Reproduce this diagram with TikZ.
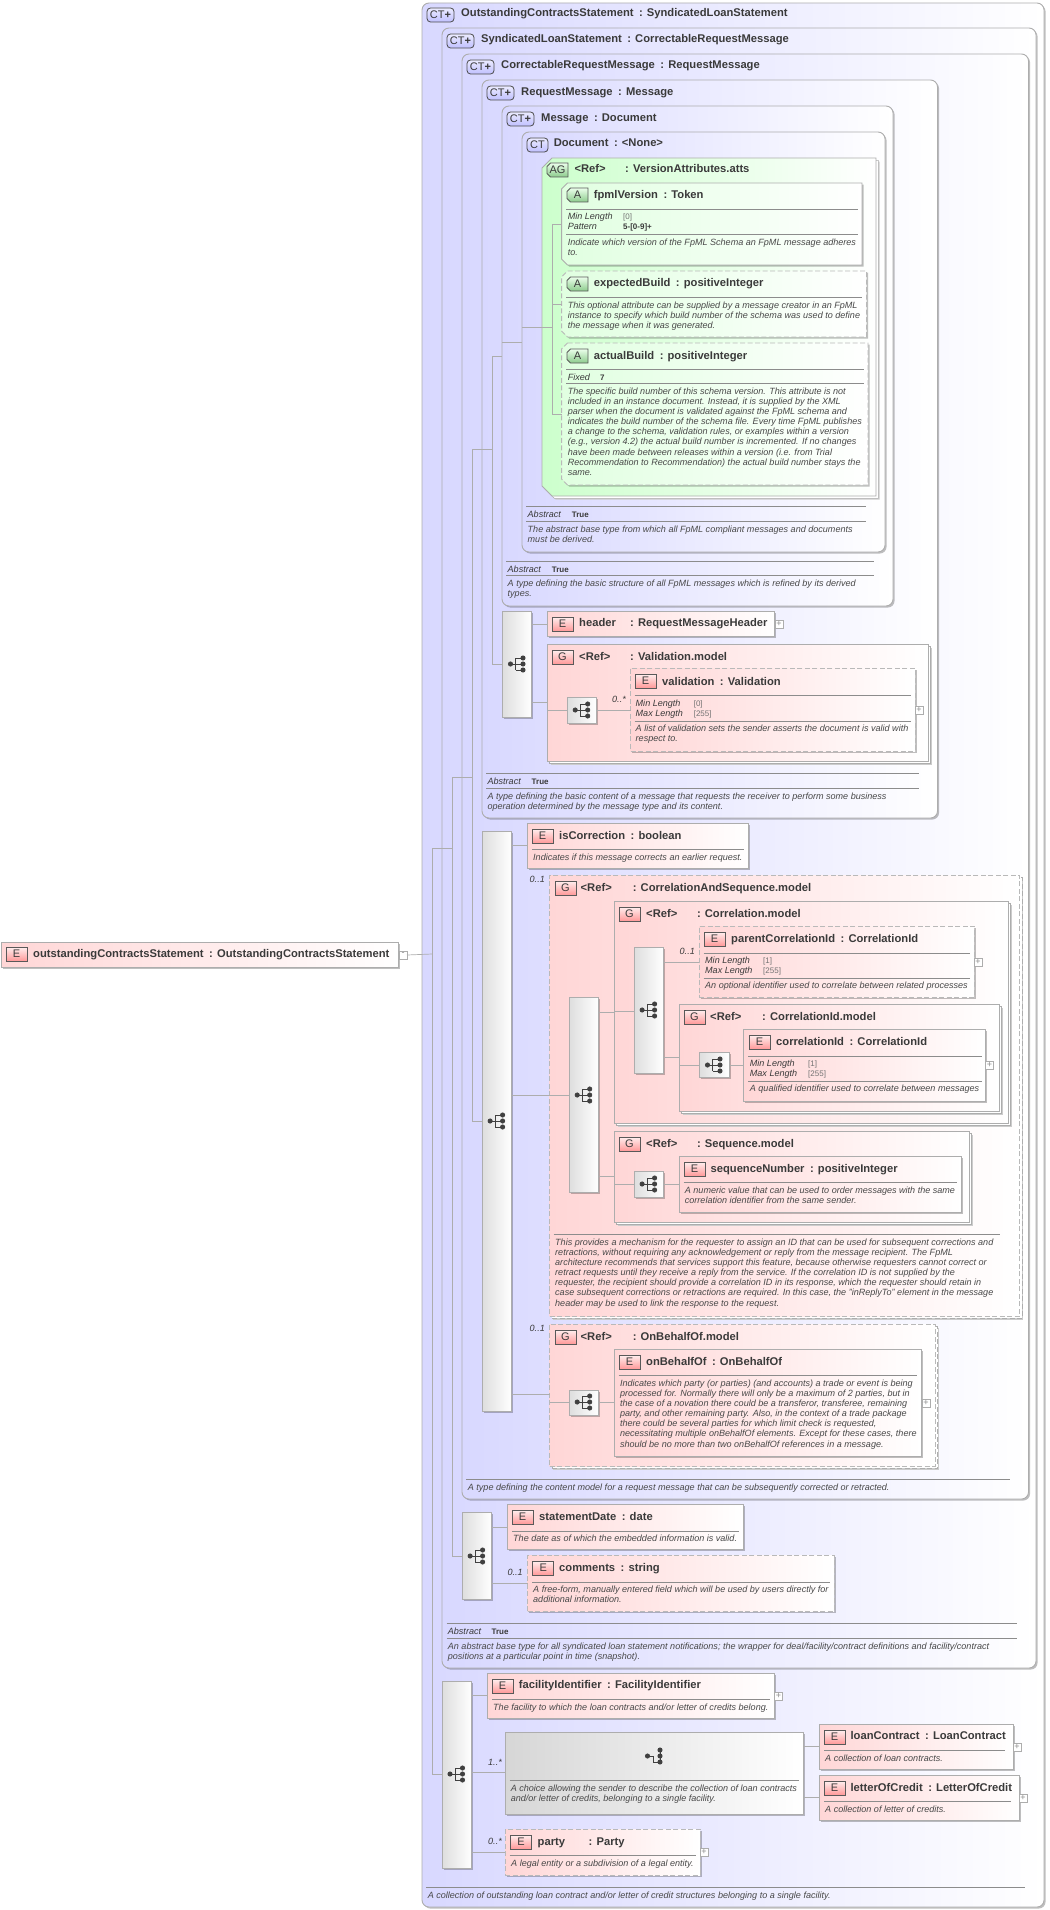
\documentclass[tikz,border=0pt]{standalone}
\usepackage{fontspec}
\setmainfont{Liberation Sans}
\usetikzlibrary{calc,shadows}
\definecolor{boxgray}{HTML}{ADADAD}
\definecolor{rulegray}{HTML}{8C8C8C}
\definecolor{inkgray}{HTML}{3A3A3A}
\definecolor{docgray}{HTML}{484848}
\definecolor{typeblue}{HTML}{D8D8FF}
\definecolor{elempink}{HTML}{FFD6D6}
\definecolor{attrgreen}{HTML}{CCFFCC}
\tikzset{
  plain/.style={rectangle,inner sep=0pt,outer sep=0pt,draw=boxgray,line width=0.9pt},
  softshadow/.style={drop shadow={shadow xshift=1.6pt,shadow yshift=-1.6pt,opacity=0.25,fill=black}},
  stack/.style={general shadow={shadow xshift=3.6pt,shadow yshift=-3.6pt,fill=black!20,draw=none},
                general shadow={shadow xshift=2.4pt,shadow yshift=-2.4pt,fill=white,draw=boxgray}},
  dashbox/.style={dash pattern=on 5pt off 2.5pt,draw=boxgray!85},
  typebox/.style={plain,rounded corners=7pt,softshadow,left color=typeblue,right color=white},
  elembox/.style={plain,softshadow,left color=elempink,middle color=elempink!35,right color=white},
  groupbox/.style={plain,stack,left color=elempink,middle color=elempink!80,right color=white},
  atgroup/.style={plain,stack,left color=attrgreen,middle color=attrgreen!70,right color=white},
  attrbox/.style={plain,softshadow,left color=attrgreen!60,middle color=attrgreen!10,right color=white},
  seqbox/.style={plain,softshadow,left color=black!13,right color=white},
  choicebox/.style={plain,softshadow,left color=black!16,right color=white},
  iconmark/.style={rectangle,draw=black!65,line width=0.8pt,inner sep=0pt,outer sep=0pt,anchor=north west,
                   minimum height=14pt,text=inkgray,font=\fontsize{11}{12}\selectfont},
  emark/.style={iconmark,minimum width=21pt,top color=elempink!40,bottom color=red!40},
  ctmark/.style={iconmark,rounded corners=3.5pt,draw=black!70,top color=typeblue!50,bottom color=blue!25},
  amark/.style={draw=black!65,line width=0.8pt,top color=attrgreen!40,bottom color=green!55!black!45},
  hollow/.style={rectangle,draw=none,inner sep=0pt,outer sep=0pt,text=inkgray,font=\fontsize{11}{12}\selectfont},
  headtext/.style={anchor=base west,inner sep=0pt,text=inkgray,font=\fontsize{11.2}{12}\selectfont\bfseries},
  doctext/.style={anchor=north west,inner sep=0pt,align=left,text=docgray,font=\fontsize{9.05}{10.15}\selectfont\itshape},
  facetkey/.style={anchor=base west,inner sep=0pt,text=inkgray,font=\fontsize{9.05}{10}\selectfont\itshape},
  facetval/.style={anchor=base west,inner sep=0pt,text=black!55,font=\fontsize{8}{9}\selectfont},
  facetbold/.style={anchor=base west,inner sep=0pt,text=inkgray,font=\fontsize{8}{9}\selectfont\bfseries},
  occurs/.style={anchor=base west,inner sep=0pt,text=inkgray,font=\fontsize{9.05}{10}\selectfont\itshape},
  plusbox/.style={rectangle,draw=boxgray,line width=0.6pt,fill=white,inner sep=0pt,outer sep=0pt,anchor=north west,
                  minimum width=8pt,minimum height=8pt,text=black!45,font=\fontsize{9}{9}\selectfont},
  connline/.style={draw=boxgray,line width=0.7pt},
  ruleline/.style={draw=rulegray,line width=0.7pt},
  iconline/.style={draw=black!75,line width=0.8pt,fill=black!75}
}
% box from its corners
\newcommand{\xbox}[6]{\node[#2,minimum width={(#5-#3)*1pt},minimum height={(#6-#4)*1pt}] (#1) at ({(#3+#5)/2},{(#4+#6)/2}) {};}
% box with cut corners on the left, #7 is the cut, #8 the text
\newcommand{\xcut}[8]{
  \draw[#2] ({#3+#7},#4) -- (#5,#4) -- (#5,#6) -- ({#3+#7},#6) -- (#3,{#6-#7}) -- (#3,{#4+#7}) -- cycle;
  \node[hollow,minimum width={(#5-#3)*1pt},minimum height={(#6-#4)*1pt}] (#1) at ({(#3+#5)/2},{(#4+#6)/2}) {#8};
}
\newcommand{\xtitle}[5]{\node[headtext] (#1-name) at (#2,#3+4) {#4\hspace{5.5pt}: #5};}
\newcommand{\xhead}[6]{\node[headtext] (#1-name) at (#2,#3+4) {#4};\node[headtext] (#1-type) at (#5,#3+4) {: #6};}
\newcommand{\xdoc}[4]{\node[doctext] (#1) at (#2,#3-4) {\rule{0pt}{7pt}#4};}
\newcommand{\xfacet}[6]{\node[facetkey] (#1-key) at (#2,#3+3) {#4};\node[facetval] (#1-val) at (#5,#3+3) {#6};}
\newcommand{\xfacetb}[6]{\node[facetkey] (#1-key) at (#2,#3+3) {#4};\node[facetbold] (#1-val) at (#5,#3+3) {#6};}
\newcommand{\xrule}[3]{\draw[ruleline] (#1,#3) -- (#2,#3);}
\newcommand{\xconn}[3]{\draw[connline] (#1 |- 0,#3) -- (#2 |- 0,#3);}
\newcommand{\seqmark}[2]{
  \draw[iconline,fill=none,shift={(#1,#2)}] (-6,0) -- (-1.5,0) (-1.5,-6) -- (-1.5,6) (-1.5,-6) -- (6,-6) (-1.5,0) -- (6,0) (-1.5,6) -- (6,6);
  \fill[iconline,shift={(#1,#2)}] (-6.5,0) circle (2.1) (6,-6) circle (2.1) (6,0) circle (2.1) (6,6) circle (2.1);
}
\begin{document}
\begin{tikzpicture}[x=1pt,y=-1pt]
\useasboundingbox (0,0) rectangle (1049,1910);
% nested complex types
\xbox{statement}{typebox}{422}{3}{1044}{1907}
\xbox{syndicated}{typebox}{442}{28}{1036}{1668}
\xbox{correctable}{typebox}{462}{54}{1028.5}{1499}
\xbox{requestmsg}{typebox}{482}{80}{937.5}{818}
\xbox{message}{typebox}{502}{106}{893}{606}
\xbox{document}{typebox}{522}{132}{885}{552}
\node[ctmark,minimum width=27pt] (statement-mark) at (427,8) {CT\textbf{+}};
\node[ctmark,minimum width=27pt] (syndicated-mark) at (447,34) {CT\textbf{+}};
\node[ctmark,minimum width=27pt] (correctable-mark) at (467,60) {CT\textbf{+}};
\node[ctmark,minimum width=27pt] (requestmsg-mark) at (487,86) {CT\textbf{+}};
\node[ctmark,minimum width=27pt] (message-mark) at (507,112) {CT\textbf{+}};
\node[ctmark,minimum width=21pt] (document-mark) at (527,138) {CT};
\xtitle{statement}{461}{13}{OutstandingContractsStatement}{SyndicatedLoanStatement}
\xtitle{syndicated}{481}{39}{SyndicatedLoanStatement}{CorrectableRequestMessage}
\xtitle{correctable}{501}{65}{CorrectableRequestMessage}{RequestMessage}
\xtitle{requestmsg}{521}{92}{RequestMessage}{Message}
\xtitle{message}{541}{118}{Message}{Document}
\xtitle{document}{553.6}{143}{Document}{<None>}
% attribute group
\xcut{versionatts}{atgroup}{542}{158}{876}{496}{10}{}
\xcut{versionatts-mark}{amark}{547}{163}{568}{177}{3.5}{AG}
\xhead{versionatts}{574.4}{169}{<Ref>}{625}{VersionAttributes.atts}
\xcut{fpml}{attrbox}{561.6}{183}{862}{265}{6}{}
\xcut{fpml-mark}{amark}{567}{188}{588}{202}{3.5}{A}
\xtitle{fpml}{593.7}{195}{fpmlVersion}{Token}
\xrule{566}{858}{209}
\xfacet{fpmlmin}{567.6}{217}{Min Length}{623}{[0]}
\xfacetb{fpmlpat}{567.6}{227}{Pattern}{623}{5-[0-9]+}
\xrule{566}{858}{234}
\xdoc{fpml-doc}{567.6}{242}{Indicate which version of the FpML Schema an FpML message adheres\\to.}
\xcut{expected}{attrbox,dashbox}{561.6}{271}{866.5}{337}{6}{}
\xcut{expected-mark}{amark}{567}{277}{588}{291}{3.5}{A}
\xtitle{expected}{593.7}{283}{expectedBuild}{positiveInteger}
\xrule{566}{862}{297}
\xdoc{expected-doc}{567.6}{305}{This optional attribute can be supplied by a message creator in an FpML\\instance to specify which build number of the schema was used to define\\the message when it was generated.}
\xcut{actual}{attrbox,dashbox}{561.6}{343}{868}{485}{6}{}
\xcut{actual-mark}{amark}{567}{349}{588}{363}{3.5}{A}
\xtitle{actual}{593.7}{355}{actualBuild}{positiveInteger}
\xrule{566}{864}{369}
\xfacetb{actualfix}{567.6}{377}{Fixed}{600}{7}
\xrule{566}{864}{383}
\xdoc{actual-doc}{567.6}{391}{The specific build number of this schema version. This attribute is not\\included in an instance document. Instead, it is supplied by the XML\\parser when the document is validated against the FpML schema and\\indicates the build number of the schema file. Every time FpML publishes\\a change to the schema, validation rules, or examples within a version\\(e.g., version 4.2) the actual build number is incremented. If no changes\\have been made between releases within a version (i.e. from Trial\\Recommendation to Recommendation) the actual build number stays the\\same.}
% footers of the types
\xrule{526}{866}{506}
\xfacetb{docabs}{527.5}{514}{Abstract}{571.6}{True}
\xrule{526}{866}{521}
\xdoc{document-doc}{527.5}{529}{The abstract base type from which all FpML compliant messages and documents\\must be derived.}
\xrule{506}{874}{561}
\xfacetb{msgabs}{507.5}{569}{Abstract}{551.6}{True}
\xrule{506}{874}{575}
\xdoc{message-doc}{507.5}{583}{A type defining the basic structure of all FpML messages which is refined by its derived\\types.}
% request message content
\xbox{seqmsg}{seqbox}{502}{611}{531.5}{717}
\xbox{header}{elembox}{547}{611}{774.6}{636}
\node[emark] (header-mark) at (552,617) {E};
\xhead{header}{579}{622}{header}{630}{RequestMessageHeader}
\node[plusbox] (header-plus) at (775,620) {+};
\xbox{validmodel}{groupbox}{547}{644}{928}{761}
\node[emark] (validmodel-mark) at (552,650) {G};
\xhead{validmodel}{579}{656}{<Ref>}{630}{Validation.model}
\xbox{seqval}{seqbox}{567}{697}{596.5}{723}
\xbox{validation}{elembox,dashbox}{630.6}{668}{915}{751}
\node[emark] (validation-mark) at (635,674) {E};
\xtitle{validation}{662}{681}{validation}{Validation}
\xrule{634.6}{910.6}{695}
\xfacet{valmin}{635.5}{703}{Min Length}{693.6}{[0]}
\xfacet{valmax}{635.5}{713}{Max Length}{693.6}{[255]}
\xrule{634.6}{910.6}{721}
\xdoc{validation-doc}{635.5}{728}{A list of validation sets the sender asserts the document is valid with\\respect to.}
\node[plusbox] (validation-plus) at (915,706) {+};
\node[occurs] (validation-occ) at (612,702) {0..*};
\xrule{486}{919}{773}
\xfacetb{reqabs}{487.4}{781}{Abstract}{531.5}{True}
\xrule{486}{919}{788}
\xdoc{requestmsg-doc}{487.4}{796}{A type defining the basic content of a message that requests the receiver to perform some business\\operation determined by the message type and its content.}
% correctable content
\xbox{seqmain}{seqbox}{482}{831}{511.5}{1411}
\xbox{iscorr}{elembox}{527}{823}{748}{868}
\node[emark] (iscorr-mark) at (532,829) {E};
\xtitle{iscorr}{559}{835}{isCorrection}{boolean}
\xrule{532}{744}{849}
\xdoc{iscorr-doc}{533}{857}{Indicates if this message corrects an earlier request.}
\xbox{corrseq}{groupbox,dashbox}{549.6}{875}{1019.7}{1316}
\node[emark] (corrseq-mark) at (555,881) {G};
\xhead{corrseq}{580.5}{887}{<Ref>}{632.6}{CorrelationAndSequence.model}
\node[occurs] (corrseq-occ) at (529.5,882) {0..1};
\xbox{seqcorr}{seqbox}{569}{997}{598.5}{1192}
\xbox{corrmodel}{groupbox}{614}{901}{1008.4}{1123}
\node[emark] (corrmodel-mark) at (619,907) {G};
\xhead{corrmodel}{646}{913}{<Ref>}{696.8}{Correlation.model}
\xbox{seqparent}{seqbox}{634}{947}{663.5}{1073}
\xbox{parent}{elembox,dashbox}{699}{926}{974}{997}
\node[emark] (parent-mark) at (704,932) {E};
\xtitle{parent}{731}{938}{parentCorrelationId}{CorrelationId}
\xrule{703.6}{969.5}{953}
\xfacet{parmin}{705}{960}{Min Length}{763}{[1]}
\xfacet{parmax}{705}{970}{Max Length}{763}{[255]}
\xrule{703.6}{969.5}{978}
\xdoc{parent-doc}{705}{985}{An optional identifier used to correlate between related processes}
\node[plusbox] (parent-plus) at (974,958) {+};
\node[occurs] (parent-occ) at (679.5,954) {0..1};
\xbox{idmodel}{groupbox}{679.5}{1004}{999}{1111}
\node[emark] (idmodel-mark) at (684,1010) {G};
\xhead{idmodel}{710}{1016}{<Ref>}{762}{CorrelationId.model}
\xbox{seqid}{seqbox}{699}{1052}{729}{1077}
\xbox{corrid}{elembox}{743.7}{1029}{985.6}{1101}
\node[emark] (corrid-mark) at (749,1035) {E};
\xtitle{corrid}{776}{1041}{correlationId}{CorrelationId}
\xrule{748}{981.6}{1056}
\xfacet{idmin}{749.7}{1063}{Min Length}{808}{[1]}
\xfacet{idmax}{749.7}{1073}{Max Length}{808}{[255]}
\xrule{748}{981.6}{1081}
\xdoc{corrid-doc}{749.7}{1088}{A qualified identifier used to correlate between messages}
\node[plusbox] (corrid-plus) at (985.6,1061) {+};
\xbox{seqmodel}{groupbox}{614}{1131}{969.5}{1222}
\node[emark] (seqmodel-mark) at (619,1137) {G};
\xhead{seqmodel}{646}{1143}{<Ref>}{696.8}{Sequence.model}
\xbox{seqnum}{seqbox}{634}{1171}{663.5}{1197}
\xbox{seqnumber}{elembox}{679}{1156}{961.5}{1212}
\node[emark] (seqnumber-mark) at (684,1162) {E};
\xtitle{seqnumber}{710.4}{1168}{sequenceNumber}{positiveInteger}
\xrule{683.5}{956.7}{1182}
\xdoc{seqnumber-doc}{684.7}{1190}{A numeric value that can be used to order messages with the same\\correlation identifier from the same sender.}
\xrule{553.6}{999.6}{1234}
\xdoc{corrseq-doc}{555}{1242}{This provides a mechanism for the requester to assign an ID that can be used for subsequent corrections and\\retractions, without requiring any acknowledgement or reply from the message recipient. The FpML\\architecture recommends that services support this feature, because otherwise requesters cannot correct or\\retract requests until they receive a reply from the service. If the correlation ID is not supplied by the\\requester, the recipient should provide a correlation ID in its response, which the requester should retain in\\case subsequent corrections or retractions are required. In this case, the "inReplyTo" element in the message\\header may be used to link the response to the request.}
\xbox{obomodel}{groupbox,dashbox}{549.6}{1324}{935.4}{1466}
\node[emark] (obomodel-mark) at (555,1330) {G};
\xhead{obomodel}{580.5}{1336}{<Ref>}{632.6}{OnBehalfOf.model}
\node[occurs] (obomodel-occ) at (529.5,1331) {0..1};
\xbox{seqobo}{seqbox}{569}{1390}{598.5}{1415}
\xbox{onbehalf}{elembox}{614}{1349}{921.4}{1456}
\node[emark] (onbehalf-mark) at (619,1355) {E};
\xtitle{onbehalf}{646}{1361}{onBehalfOf}{OnBehalfOf}
\xrule{618.6}{917.4}{1375}
\xdoc{onbehalf-doc}{619.8}{1383}{Indicates which party (or parties) (and accounts) a trade or event is being\\processed for. Normally there will only be a maximum of 2 parties, but in\\the case of a novation there could be a transferor, transferee, remaining\\party, and other remaining party. Also, in the context of a trade package\\there could be several parties for which limit check is requested,\\necessitating multiple onBehalfOf elements. Except for these cases, there\\should be no more than two onBehalfOf references in a message.}
\node[plusbox] (onbehalf-plus) at (922,1399) {+};
\xrule{466}{1009.6}{1479}
\xdoc{correctable-doc}{467.7}{1487}{A type defining the content model for a request message that can be subsequently corrected or retracted.}
% syndicated content
\xbox{seqstmt}{seqbox}{462}{1512}{491.4}{1599}
\xbox{stmtdate}{elembox}{507}{1504}{743}{1549}
\node[emark] (stmtdate-mark) at (512,1510) {E};
\xtitle{stmtdate}{539}{1516}{statementDate}{date}
\xrule{512}{739}{1531}
\xdoc{stmtdate-doc}{513}{1538}{The date as of which the embedded information is valid.}
\xbox{comments}{elembox,dashbox}{527.5}{1555}{834}{1611}
\node[emark] (comments-mark) at (532.7,1561) {E};
\xtitle{comments}{559}{1567}{comments}{string}
\xrule{532}{830}{1582}
\xdoc{comments-doc}{533}{1589}{A free-form, manually entered field which will be used by users directly for\\additional information.}
\node[occurs] (comments-occ) at (507.4,1575) {0..1};
\xrule{446.5}{1017}{1623}
\xfacetb{synabs}{447.7}{1631}{Abstract}{491.4}{True}
\xrule{446.5}{1017}{1638}
\xdoc{syndicated-doc}{447.7}{1646}{An abstract base type for all syndicated loan statement notifications; the wrapper for deal/facility/contract definitions and facility/contract\\positions at a particular point in time (snapshot).}
% statement content
\xbox{seqlast}{seqbox}{442}{1681}{471.7}{1868}
\xbox{facility}{elembox}{487.4}{1673}{774}{1718}
\node[emark] (facility-mark) at (492,1679) {E};
\xtitle{facility}{518.7}{1684}{facilityIdentifier}{FacilityIdentifier}
\xrule{492}{770}{1699}
\xdoc{facility-doc}{493}{1707}{The facility to which the loan contracts and/or letter of credits belong.}
\node[plusbox] (facility-plus) at (774.6,1692) {+};
\xbox{choice}{choicebox}{505.4}{1732}{803.5}{1814}
\xrule{509.5}{799}{1780}
\xdoc{choice-doc}{510.6}{1788}{A choice allowing the sender to describe the collection of loan contracts\\and/or letter of credits, belonging to a single facility.}
\node[occurs] (choice-occ) at (488,1765) {1..*};
\xbox{loan}{elembox}{819}{1724}{1013}{1769}
\node[emark] (loan-mark) at (824,1730) {E};
\xtitle{loan}{850.4}{1735}{loanContract}{LoanContract}
\xrule{824}{1005}{1750}
\xdoc{loan-doc}{825}{1758}{A collection of loan contracts.}
\node[plusbox] (loan-plus) at (1013,1743) {+};
\xbox{credit}{elembox}{819}{1775}{1019}{1820}
\node[emark] (credit-mark) at (824,1781) {E};
\xtitle{credit}{850.4}{1787}{letterOfCredit}{LetterOfCredit}
\xrule{824}{1011}{1801}
\xdoc{credit-doc}{825}{1809}{A collection of letter of credits.}
\node[plusbox] (credit-plus) at (1019,1794) {+};
\xbox{party}{elembox,dashbox}{505.4}{1829}{700}{1875}
\node[emark] (party-mark) at (510.6,1835) {E};
\xhead{party}{537.5}{1841}{party}{588.5}{Party}
\xrule{509.5}{696}{1855}
\xdoc{party-doc}{511}{1863}{A legal entity or a subdivision of a legal entity.}
\node[plusbox] (party-plus) at (700,1848) {+};
\node[occurs] (party-occ) at (488,1844) {0..*};
\xrule{426.4}{1025}{1887}
\xdoc{statement-doc}{427.6}{1895}{A collection of outstanding loan contract and/or letter of credit structures belonging to a single facility.}
% root element
\xbox{root}{elembox}{1}{942}{398}{967}
\node[emark] (root-mark) at (6,947) {E};
\xtitle{root}{33}{953}{outstandingContractsStatement}{OutstandingContractsStatement}
\node[plusbox] (root-plus) at (399,951) {\raisebox{1pt}{-}};
% sequence icons
\foreach \x/\y in {517/664,581.7/710,496.6/1121,583.7/1095,648.6/1010,714/1065,648.6/1184,583.7/1402,476.6/1556,456.5/1774} {
  \seqmark{\x}{\y}
}
% choice icon
\draw[iconline,fill=none,shift={(654,1756)}] (-6,0) -- (-1,0) (-1,0) -- (-1,6) -- (6,6) (6,-6) -- (6,6);
\fill[iconline,shift={(654,1756)}] (-6.5,0) circle (2.1) (6,-6) circle (2.1) (6,0) circle (2.1) (6,6) circle (2.1);
% forks of the nesting
\coordinate (rootfork) at (432,954);
\draw[connline] (root-plus.east) -- (rootfork);
\foreach \xf/\ya/\yb in {432/848/1774,452/777/1556,472/449/1121,492/356/664,552/224/414} {
  \draw[connline] (\xf,\ya) -- (\xf,\yb);
}
\xconn{rootfork}{seqlast.west}{1774}
\draw[connline] (432,848) -- (452,848);
\xconn{452,0}{seqstmt.west}{1556}
\draw[connline] (452,777) -- (472,777);
\xconn{472,0}{seqmain.west}{1121}
\draw[connline] (472,449) -- (492,449);
\xconn{492,0}{seqmsg.west}{664}
\xconn{492,0}{message.west}{356}
\xconn{message.west}{document.west}{342}
\draw[connline] (document.west |- 0,327) -- (552,327);
\xconn{552,0}{fpml.west}{224}
\xconn{552,0}{expected.west}{304}
\xconn{552,0}{actual.west}{414}
% connectors
\xconn{seqmsg.east}{header.west}{624}
\xconn{seqmsg.east}{validmodel.west}{702}
\xconn{validmodel.west}{seqval.west}{710}
\xconn{seqval.east}{validation.west}{710}
\xconn{seqmain.east}{iscorr.west}{845}
\xconn{seqmain.east}{seqcorr.west}{1095}
\xconn{seqcorr.east}{corrmodel.west}{1012}
\xconn{corrmodel.west}{seqparent.west}{1011}
\xconn{seqparent.east}{parent.west}{962}
\xconn{seqparent.east}{idmodel.west}{1057}
\xconn{idmodel.west}{seqid.west}{1065}
\xconn{seqid.east}{corrid.west}{1065}
\xconn{seqcorr.east}{seqmodel.west}{1176}
\xconn{seqmodel.west}{seqnum.west}{1184}
\xconn{seqnum.east}{seqnumber.west}{1184}
\xconn{seqmain.east}{obomodel.west}{1394}
\xconn{obomodel.west}{seqobo.west}{1402}
\xconn{seqobo.east}{onbehalf.west}{1402}
\xconn{seqstmt.east}{stmtdate.west}{1527}
\xconn{seqstmt.east}{comments.west}{1583}
\xconn{seqlast.east}{facility.west}{1695}
\xconn{seqlast.east}{choice.west}{1772}
\xconn{seqlast.east}{party.west}{1852}
\xconn{choice.east}{loan.west}{1746}
\xconn{choice.east}{credit.west}{1797}
\end{tikzpicture}
\end{document}
